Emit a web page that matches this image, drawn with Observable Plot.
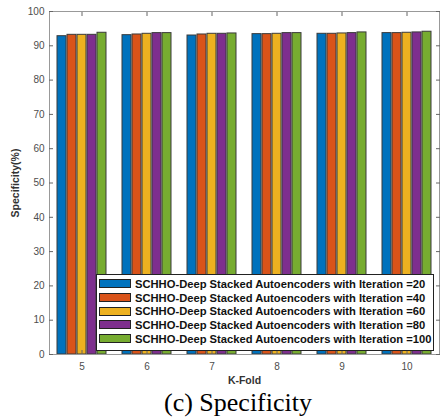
<!DOCTYPE html>
<html>
<head>
<meta charset="utf-8">
<script src="https://cdn.jsdelivr.net/npm/d3@7"></script>
<script src="https://cdn.jsdelivr.net/npm/@observablehq/plot@0.6"></script>
<style>
  body { margin: 0; background: white; }
  #wrap { position: relative; width: 442px; height: 419px; background: white; }
  #wrap svg { display: block; }
  g[aria-label="y-axis label"] text, g[aria-label="fx-axis label"] text { font-weight: bold; fill: #333; font-size: 10.5px; }
  #legend { position: absolute; left: 96px; top: 274px; width: 338px; height: 77px; border: 1px solid #222; background: white; box-sizing: border-box; padding-top: 2px; overflow: visible; }
  .row { display: flex; align-items: center; height: 13.7px; }
  .sw { flex: 0 0 32px; width: 32px; height: 9px; border: 1px solid #222; margin-left: 2px; margin-right: 4px; box-sizing: border-box; }
  .lab { flex: 0 0 auto; font: bold 11.2px "Liberation Sans", Arial, sans-serif; color: #111; white-space: nowrap; }
  #caption { font-family: "Liberation Serif", "Times New Roman", serif; font-size: 26px; line-height: 26px; text-align: center; padding-left: 34px; width: 408px; color: #000; }
</style>
</head>
<body>
<div id="wrap"><div id="chart"></div><div id="legend"></div><div id="caption">(c) Specificity</div></div>
<script>
const kFolds = [5, 6, 7, 8, 9, 10];
const iterations = [20, 40, 60, 80, 100];
const iter20  = [92.8, 93.1, 93.0, 93.4, 93.5, 93.7];
const iter40  = [93.2, 93.3, 93.3, 93.4, 93.5, 93.7];
const iter60  = [93.2, 93.5, 93.5, 93.5, 93.6, 93.8];
const iter80  = [93.2, 93.7, 93.5, 93.7, 93.7, 93.9];
const iter100 = [93.8, 93.7, 93.6, 93.7, 93.9, 94.1];
const yTicks = [0, 10, 20, 30, 40, 50, 60, 70, 80, 90, 100];
const colors = ["#0072BD", "#D95319", "#EDB120", "#7E2F8E", "#77AC30"];
const labelPrefix = "SCHHO-Deep Stacked Autoencoders with Iteration =";

const series = [iter20, iter40, iter60, iter80, iter100];
const data = kFolds.flatMap((k, i) => iterations.map((it, j) => ({k, it, v: series[j][i]})));

const chart = Plot.plot({
  width: 442,
  height: 390,
  marginLeft: 47,
  marginRight: 1,
  marginTop: 11,
  marginBottom: 36,
  style: {fontFamily: "'Liberation Sans', Arial, sans-serif", fontSize: "10px", color: "#4d4d4d", background: "white"},
  fx: {domain: kFolds, padding: 0},
  x: {domain: iterations, paddingInner: 0.12, paddingOuter: 0.8, axis: null},
  y: {domain: [0, 100]},
  color: {type: "ordinal", domain: iterations, range: colors},
  marks: [
    Plot.barY(data, {fx: "k", x: "it", y: "v", fill: "it", stroke: "#3a3a3a", strokeWidth: 1}),
    Plot.frame({facet: "super", stroke: "#999"}),
    Plot.axisY(yTicks, {anchor: "left", tickSize: -4, tickPadding: 9, stroke: "#666", label: "Specificity(%)", labelAnchor: "center", labelOffset: 38, labelArrow: "none"}),
    Plot.axisY(yTicks, {anchor: "right", tickSize: -4, stroke: "#666", tickFormat: () => "", label: null}),
    Plot.axisFx({anchor: "bottom", tickSize: -4, tickPadding: 12, stroke: "#666", label: "K-Fold", labelAnchor: "center", labelOffset: 29, labelArrow: "none"}),
    Plot.axisFx({anchor: "top", tickSize: -4, stroke: "#666", tickFormat: () => "", label: null})
  ]
});
document.getElementById("chart").appendChild(chart);

const legend = document.getElementById("legend");
iterations.forEach((it, j) => {
  const row = document.createElement("div");
  row.className = "row";
  const sw = document.createElement("div");
  sw.className = "sw";
  sw.style.background = colors[j];
  const lab = document.createElement("span");
  lab.className = "lab";
  lab.textContent = labelPrefix + it;
  row.appendChild(sw);
  row.appendChild(lab);
  legend.appendChild(row);
});
</script>
</body>
</html>
